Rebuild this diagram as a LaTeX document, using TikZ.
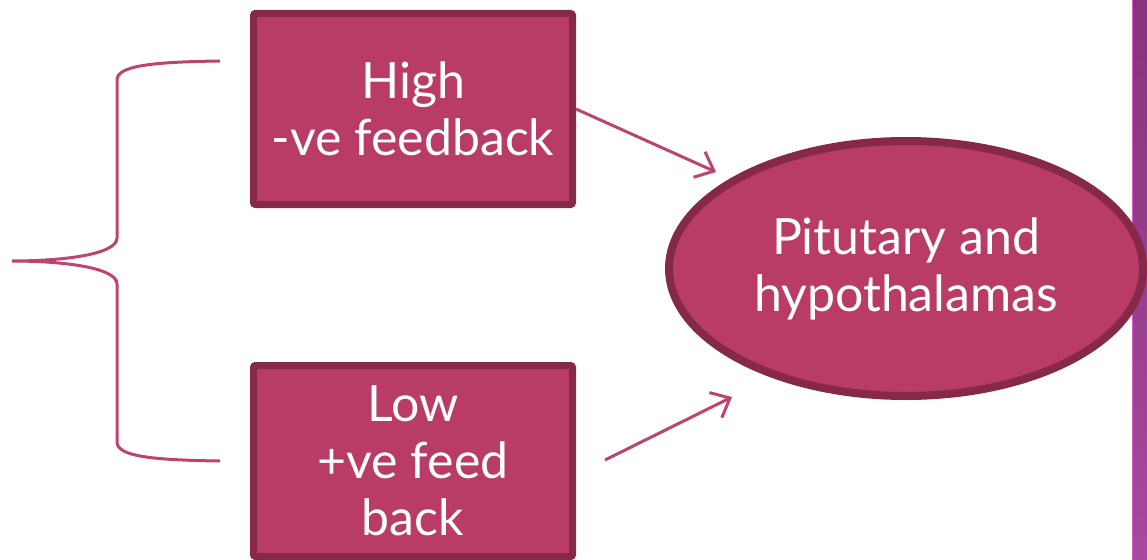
\documentclass[tikz,border=0pt]{standalone}
\usepackage{fontspec}
\setmainfont{Lato}
\usetikzlibrary{arrows.meta,shapes.geometric}
\definecolor{boxfill}{RGB}{185,60,102}
\definecolor{boxedge}{RGB}{134,41,73}
\definecolor{linkcol}{RGB}{190,68,112}
\definecolor{striptop}{RGB}{135,52,122}
\definecolor{stripbot}{RGB}{168,72,160}
\definecolor{stripedge}{RGB}{215,95,200}
\begin{document}
\begin{tikzpicture}[x=1pt,y=-1pt,
  box/.style={draw=boxedge,fill=boxfill,line width=7pt,rounded corners=2pt,
    minimum width=319pt,minimum height=191pt,inner sep=0pt,
    text=white,align=center,font=\fontsize{50}{57}\selectfont},
  gland/.style={ellipse,draw=boxedge,fill=boxfill,line width=8pt,
    minimum width=474pt,minimum height=255pt,inner sep=0pt,
    text=white,align=center,font=\fontsize{50}{57}\selectfont},
  link/.style={draw=linkcol,line width=3pt,-{Straight Barb[length=16pt,width=28pt]}}]
\useasboundingbox (0,0) rectangle (1147,559);
\shade[top color=striptop,bottom color=stripbot] (1132,0) rectangle (1147,559);
\draw[stripedge,line width=1pt] (1132.5,0) -- (1132.5,559);

\foreach \nm/\py/\txt in {
high/109/{High\\-ve feedback},
low/461/{Low\\+ve feed\\back}}
{
  \node[box] (\nm) at (413,\py) {\txt};
}
\node[gland] (pit) at (906,268.5) {Pitutary and\\hypothalamas};

\draw[linkcol,line width=3pt] (220,61) .. controls (150,62) and (117,66) .. (117,80)
  -- (117,238) .. controls (117,255) and (60,261) .. (12,261)
  .. controls (60,261) and (117,267) .. (117,284)
  -- (117,442) .. controls (117,456) and (150,460) .. (220,461);

\coordinate (hiTip) at (716,172);
\coordinate (loTail) at (605,460);
\coordinate (loTip) at (732,397);
\draw[link] (high.east) -- (hiTip);
\draw[link] (loTail) -- (loTip);
\end{tikzpicture}
\end{document}
